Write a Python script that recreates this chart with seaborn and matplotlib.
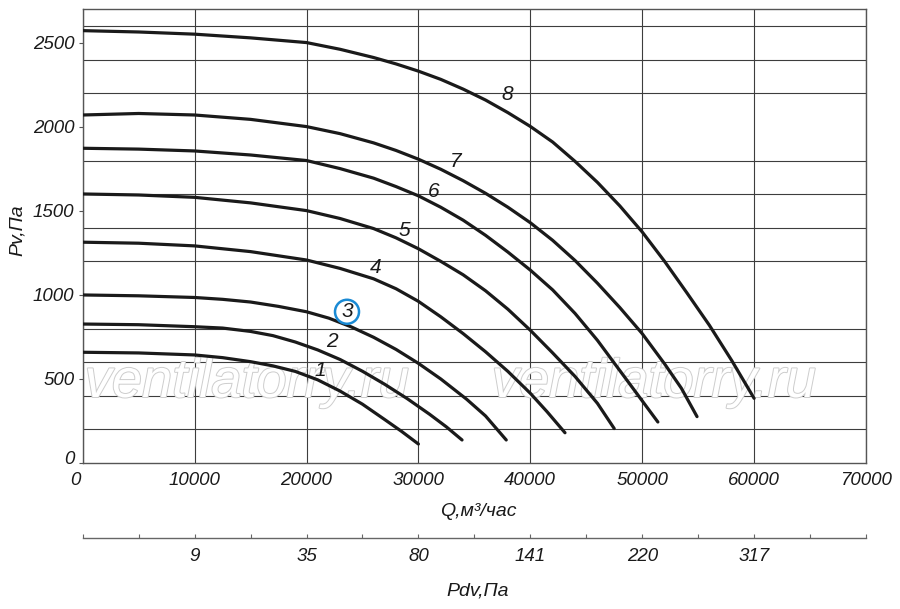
import matplotlib
matplotlib.use("Agg")
import matplotlib.pyplot as plt
import matplotlib.patheffects as pe
from matplotlib.transforms import ScaledTranslation
import numpy as np
import pandas as pd
import seaborn as sns

# Fan curves: Q (m3/h) vs static pressure Pv (Pa)
q1 = [0, 5000, 10000, 12500, 15000, 17000, 19000, 21000, 23000, 25000, 27000, 28500, 30000]
p1 = [659, 655, 643, 627, 603, 578, 545, 495, 428, 350, 258, 188, 113]

q2 = [0, 5000, 10000, 12500, 15000, 17000, 19000, 21000, 23000, 25000, 27000, 29000,
      31000, 32500, 33900]
p2 = [827, 823, 811, 803, 783, 758, 720, 673, 616, 546, 468, 383, 290, 215, 137]

q3 = [0, 5000, 10000, 12500, 15000, 17500, 20000, 22000, 24000, 26000, 28000, 30000,
      32000, 34300, 36000, 37850]
p3 = [1000, 995, 985, 974, 958, 932, 900, 862, 810, 748, 676, 593, 500, 380, 280, 137]

q4 = [0, 5000, 10000, 15000, 20000, 23000, 26000, 28000, 30000, 32000, 34000, 36000,
      38000, 40000, 41500, 43100]
p4 = [1314, 1308, 1292, 1258, 1208, 1158, 1096, 1037, 962, 870, 770, 662, 545, 415, 305, 180]

q5 = [0, 5000, 10000, 15000, 20000, 23000, 26000, 28000, 30000, 32000, 34000, 36000,
      38000, 40000, 42000, 44000, 46000, 47500]
p5 = [1601, 1595, 1581, 1548, 1502, 1455, 1395, 1340, 1275, 1200, 1120, 1025, 915, 790,
      655, 515, 355, 205]

q6 = [0, 5000, 10000, 15000, 20000, 23000, 26000, 28000, 30000, 32000, 34000, 36000,
      38000, 40000, 42000, 44000, 46000, 48000, 50000, 51400]
p6 = [1873, 1868, 1857, 1833, 1800, 1752, 1695, 1645, 1590, 1522, 1445, 1355, 1255, 1148,
      1030, 890, 730, 550, 370, 244]

q7 = [0, 5000, 10000, 15000, 20000, 23000, 26000, 28000, 30000, 32000, 34000, 36000,
      38000, 40000, 42000, 44000, 46000, 48000, 50000, 52000, 53500, 54900]
p7 = [2071, 2080, 2071, 2045, 2002, 1960, 1905, 1860, 1808, 1748, 1680, 1605, 1522, 1430,
      1325, 1205, 1070, 925, 770, 590, 445, 276]

q8 = [0, 5000, 10000, 15000, 20000, 23000, 26000, 28000, 30000, 32000, 34000, 36000,
      38000, 40000, 42000, 44000, 46000, 48000, 50000, 52000, 54000, 56000, 58000, 60000]
p8 = [2573, 2565, 2552, 2530, 2502, 2462, 2413, 2375, 2332, 2283, 2225, 2160, 2085, 2003,
      1910, 1795, 1670, 1530, 1375, 1200, 1012, 820, 610, 385]

curve_names = ["1", "2", "3", "4", "5", "6", "7", "8"]
curve_q = [q1, q2, q3, q4, q5, q6, q7, q8]
curve_p = [p1, p2, p3, p4, p5, p6, p7, p8]

# curve number labels (where they sit on the chart)
label_q = [21230, 22280, 23620, 26220, 28780, 31370, 33310, 37940]
label_p = [549, 722, 900, 1163, 1383, 1615, 1793, 2190]

# dynamic pressure scale under the chart
pdv_q = [10000, 20000, 30000, 40000, 50000, 60000]
pdv_labels = ["9", "35", "80", "141", "220", "317"]

rows = []
for name, qs, ps in zip(curve_names, curve_q, curve_p):
    for q, p in zip(qs, ps):
        rows.append({"curve": name, "Q": q, "P": p})
df = pd.DataFrame(rows)

sns.set_theme(style="white")
plt.rcParams["font.family"] = ["Liberation Sans", "DejaVu Sans"]
plt.rcParams["font.style"] = "italic"

ink = "#1a1a1a"
gridc = "#3d3d3d"

fig = plt.figure(figsize=(9, 6.09), dpi=100)
ax = fig.add_axes([82.7 / 900, 146 / 609, 783.3 / 900, 453.7 / 609])

sns.lineplot(data=df, x="Q", y="P", units="curve", estimator=None, sort=False,
             color=ink, linewidth=2.3, ax=ax, zorder=3)
for ln in ax.get_lines():
    ln.set_solid_joinstyle("round")
    ln.set_solid_capstyle("round")

ax.set_xlim(0, 70000)
ax.set_ylim(0, 2700)
ax.set_xlabel("")
ax.set_ylabel("")

xt = list(range(0, 70001, 10000))
ax.set_xticks(xt, labels=[str(v) for v in xt])
yt = list(range(0, 2501, 500))
ax.set_yticks(yt, labels=[str(v) for v in yt])
ax.set_yticks(np.arange(200, 2601, 200), minor=True)

ax.set_axisbelow(True)
ax.grid(False)
ax.grid(True, which="major", axis="x", color=gridc, linewidth=0.8)
ax.grid(True, which="minor", axis="y", color=gridc, linewidth=0.8)

ax.tick_params(axis="x", length=0, pad=6.5, labelsize=13.5, labelcolor=ink)
ax.tick_params(axis="y", which="major", left=True, length=3, width=0.8,
               color="#555555", direction="out", pad=3, labelsize=13.5,
               labelcolor=ink)
ax.tick_params(axis="y", which="minor", length=0)

for sp in ax.spines.values():
    sp.set_color("#555555")
    sp.set_linewidth(1.0)

# secondary scale: dynamic pressure
sec = ax.secondary_xaxis(-0.166)
sec.set_xticks(pdv_q, labels=pdv_labels)
sec.set_xticks(np.arange(0, 70001, 5000), minor=True)
sec.tick_params(which="both", bottom=True, direction="in", length=3, width=0.8,
                color="#666666", pad=7, labelsize=13.5, labelcolor=ink)
sec.spines["bottom"].set_color("#666666")
sec.spines["bottom"].set_linewidth(1.0)

# curve numbers
for name, lq, lp in zip(curve_names, label_q, label_p):
    kw = {}
    if name == "3":
        kw["bbox"] = dict(boxstyle="circle,pad=0.12", fc="white",
                          ec="#1a8ad4", lw=1.8)
    ax.text(lq, lp, name, ha="center", va="center", fontsize=15,
            color=ink, zorder=4, **kw)

# watermark
for wq in [14660, 51030]:
    ax.text(wq, 476, "ventilatorry.ru", ha="center", va="center",
            fontsize=39, color="white", zorder=1.5,
            path_effects=[pe.Stroke(linewidth=1.4, foreground="#cdcdcd"),
                          pe.Normal()])

# axis titles
fig.text(478 / 900, 1 - 511 / 609, "Q,м³/час", ha="center", va="center",
         fontsize=14, color=ink)
fig.text(478 / 900, 1 - 591 / 609, "Pdv,Па", ha="center", va="center",
         fontsize=14, color=ink)
fig.text(17 / 900, 1 - 230 / 609, "Pv,Па", ha="center", va="center",
         rotation=90, fontsize=14, color=ink)

# nudge the two zero labels like the original
xl0 = ax.xaxis.get_majorticklabels()[0]
xl0.set_transform(xl0.get_transform() + ScaledTranslation(-0.07, 0, fig.dpi_scale_trans))
yl0 = ax.yaxis.get_majorticklabels()[0]
yl0.set_transform(yl0.get_transform() + ScaledTranslation(0, 0.05, fig.dpi_scale_trans))

fig.savefig("out.png", dpi=100)
